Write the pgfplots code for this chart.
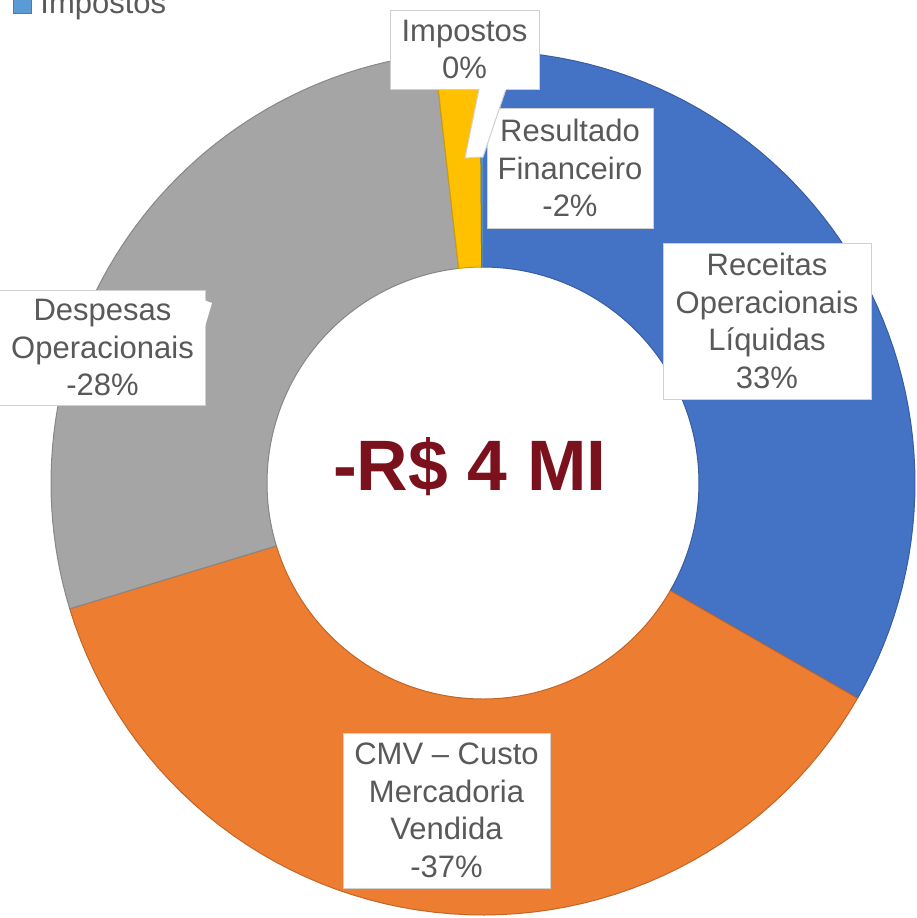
\documentclass[border=0pt]{standalone}
\usepackage{pgfplots}
\pgfplotsset{compat=1.18}
\usepackage{fontspec}
\setmainfont{Liberation Sans}
\definecolor{cBlue}{HTML}{4472C4}
\definecolor{cOrange}{HTML}{ED7D31}
\definecolor{cGray}{HTML}{A5A5A5}
\definecolor{cGold}{HTML}{FFC000}
\definecolor{cLBlue}{HTML}{5B9BD5}
\definecolor{txt}{HTML}{595959}
\definecolor{boxline}{HTML}{D0D0D0}
\definecolor{center}{HTML}{7B111C}
% slice shares (percent of the absolute total), in chart order
% Receitas 33.3, CMV 37.0, Despesas 27.9, Resultado Financeiro 1.7, Impostos 0.1
\newcommand{\donutslice}[3]{%
  \addplot[fill=#3, draw=#3!82!black, line width=0.5pt,
    samples at={0,1,...,60,100,101,...,160}, variable=\t]
  ({483 + ((\t<80) ? 432 : 216)*sin(((\t<80) ? (3.6*(#1+(#2-#1)*\t/60)) : (3.6*(#2-(#2-#1)*(\t-100)/60))))},
   {483 - ((\t<80) ? 432 : 216)*cos(((\t<80) ? (3.6*(#1+(#2-#1)*\t/60)) : (3.6*(#2-(#2-#1)*(\t-100)/60))))}) -- cycle;
}
\begin{document}
\begin{tikzpicture}
\begin{axis}[x=0.5pt, y=-0.5pt, xmin=0, xmax=917, ymin=0, ymax=918,
  hide axis, clip=false, anchor=origin, at={(0,0)}]
\coordinate (TL) at (axis cs:0,0);
\coordinate (BR) at (axis cs:917,918);
\donutslice{0}{33.3}{cBlue}
\donutslice{33.3}{70.3}{cOrange}
\donutslice{70.3}{98.2}{cGray}
\donutslice{98.2}{99.9}{cGold}
\donutslice{99.9}{100}{cLBlue}
% center value
\node[font=\fontsize{35.7}{40}\selectfont\bfseries, text=center, anchor=base] at (axis cs:470,490) {-R\$ 4 MI};
% data labels
\tikzset{lbl/.style={draw=boxline, line width=0.5pt, fill=white, inner sep=0pt, align=center, text=txt,
  font=\fontsize{15.5}{18.75}\selectfont}}
\node[lbl, minimum width=104pt, minimum height=78pt] at (axis cs:767,321) {Receitas\\Operacionais\\Líquidas\\33\%};
\node[lbl, minimum width=103.5pt, minimum height=77.5pt] at (axis cs:446.5,810.5) {CMV – Custo\\Mercadoria\\Vendida\\-37\%};
\node[lbl, minimum width=103pt, minimum height=57.5pt] at (axis cs:102.5,347.5) {Despesas\\Operacionais\\-28\%};
\fill[white] (axis cs:204,300) -- (axis cs:212,303) -- (axis cs:204,330) -- cycle;
\node[lbl, minimum width=83pt, minimum height=60pt] at (axis cs:570,168) {Resultado\\Financeiro\\-2\%};
\node[lbl, minimum width=74.5pt, minimum height=39.5pt] (imp) at (axis cs:464.5,49.5) {Impostos\\0\%};
\filldraw[fill=white, draw=boxline, line width=0.5pt] (axis cs:479,89) -- (axis cs:465,158) -- (axis cs:483,157) -- (axis cs:506,89);
\fill[white] (axis cs:479.5,88) rectangle (axis cs:505.5,90);
% legend (cut off at the top)
\fill[cLBlue] (axis cs:13,-6) rectangle (axis cs:31,13);
\draw[cLBlue!80!black, line width=0.5pt] (axis cs:13,-6) rectangle (axis cs:31,13);
\node[anchor=base west, inner sep=0pt, text=txt, font=\fontsize{15.5}{18.75}\selectfont] at (axis cs:40,13) {Impostos};
\end{axis}
\pgfresetboundingbox
\path[use as bounding box] (TL) rectangle (BR);
\end{tikzpicture}
\end{document}
